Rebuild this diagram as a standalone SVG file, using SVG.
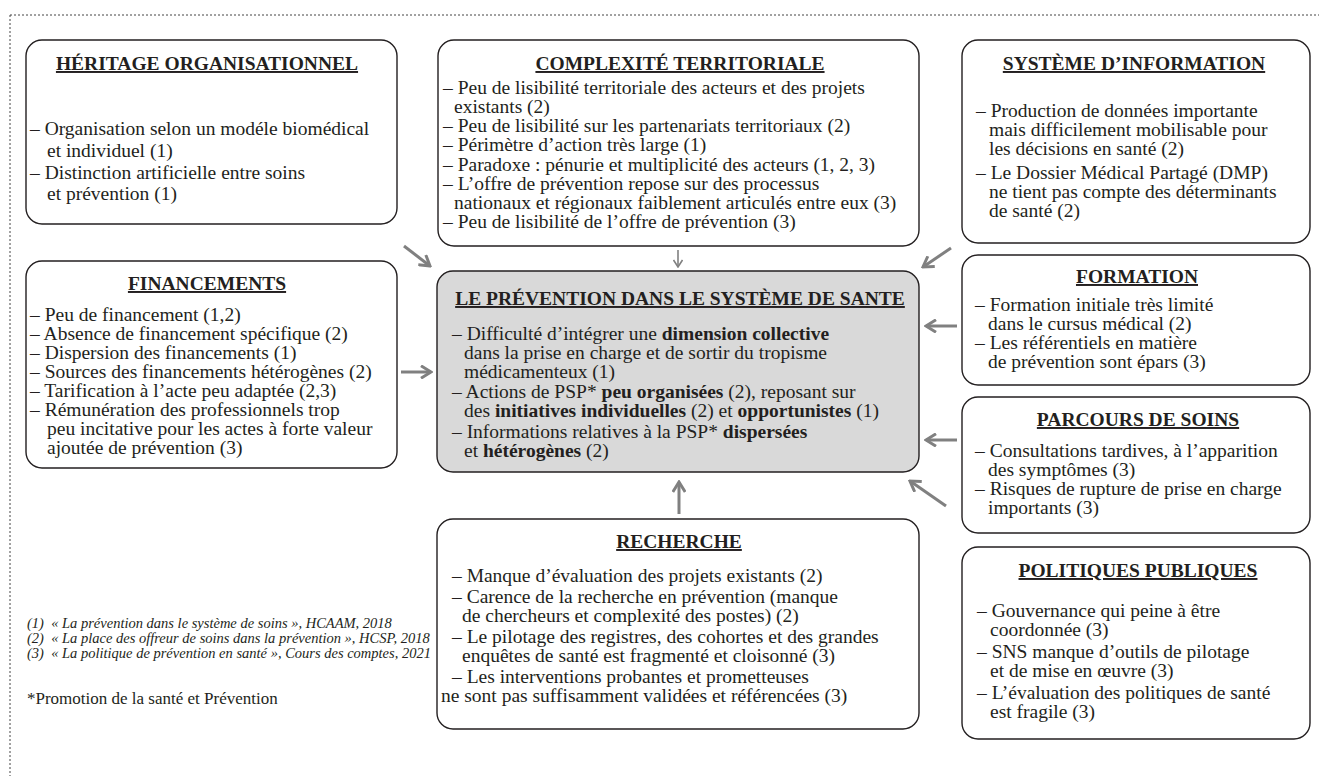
<svg xmlns="http://www.w3.org/2000/svg" width="1319" height="776" viewBox="0 0 1319 776">
<style>
text{font-family:"Liberation Serif","Times New Roman",serif;fill:#231f20;}
.b{font-size:19.5px;}
.t{font-size:19.5px;font-weight:bold;text-anchor:middle;text-decoration:underline;}
.box{fill:#fff;stroke:#231f20;stroke-width:1.4;}
.gray{fill:#d9d9d9;}
.bd{font-weight:bold;}
.fn{font-size:14.5px;font-style:italic;}
.note{font-size:17px;}
.ar{stroke:#808080;stroke-width:3;fill:none;}
.ars{stroke:#808080;stroke-width:1.6;fill:none;}
.frame{stroke:#444;stroke-width:1;stroke-dasharray:2 2;fill:none;}
</style>
<defs>
<marker id="ah" markerUnits="userSpaceOnUse" viewBox="0 0 14 14" refX="12" refY="7" markerWidth="14" markerHeight="14" orient="auto">
<path d="M2,0.8 L12,7 L2,13.2" fill="none" stroke="#808080" stroke-width="3"/>
</marker>
<marker id="ahs" markerUnits="userSpaceOnUse" viewBox="0 0 10 10" refX="9" refY="5" markerWidth="10" markerHeight="10" orient="auto">
<path d="M2,0.5 L9,5 L2,9.5" fill="none" stroke="#808080" stroke-width="1.6"/>
</marker>
</defs>

<g id="frame">
<path class="frame" d="M10,15 H1319 M10,15 V776"/>
</g>

<g id="heritage">
<rect class="box" x="26" y="40" width="371" height="184" rx="16"/>
<text class="t" x="207" y="70">HÉRITAGE ORGANISATIONNEL</text>
<text class="b" x="30" y="135">– Organisation selon un modéle biomédical</text>
<text class="b" x="47" y="157">et individuel (1)</text>
<text class="b" x="30" y="179">– Distinction artificielle entre soins</text>
<text class="b" x="47" y="200">et prévention (1)</text>
</g>

<g id="complexite">
<rect class="box" x="438" y="40" width="481" height="206" rx="16"/>
<text class="t" x="680" y="70">COMPLEXITÉ TERRITORIALE</text>
<text class="b" x="443" y="94">– Peu de lisibilité territoriale des acteurs et des projets</text>
<text class="b" x="454" y="113">existants (2)</text>
<text class="b" x="443" y="132">– Peu de lisibilité sur les partenariats territoriaux (2)</text>
<text class="b" x="443" y="151">– Périmètre d’action très large (1)</text>
<text class="b" x="443" y="171">– Paradoxe : pénurie et multiplicité des acteurs (1, 2, 3)</text>
<text class="b" x="443" y="190">– L’offre de prévention repose sur des processus</text>
<text class="b" x="454" y="209">nationaux et régionaux faiblement articulés entre eux (3)</text>
<text class="b" x="443" y="228">– Peu de lisibilité de l’offre de prévention (3)</text>
</g>

<g id="systeme">
<rect class="box" x="962" y="40" width="348" height="203" rx="16"/>
<text class="t" x="1134" y="70">SYSTÈME D’INFORMATION</text>
<text class="b" x="976" y="117">– Production de données importante</text>
<text class="b" x="989" y="136">mais difficilement mobilisable pour</text>
<text class="b" x="989" y="155">les décisions en santé (2)</text>
<text class="b" x="976" y="179">– Le Dossier Médical Partagé (DMP)</text>
<text class="b" x="989" y="198">ne tient pas compte des déterminants</text>
<text class="b" x="989" y="217">de santé (2)</text>
</g>

<g id="financements">
<rect class="box" x="26" y="261" width="371" height="207" rx="16"/>
<text class="t" x="207" y="290">FINANCEMENTS</text>
<text class="b" x="30" y="321">– Peu de financement (1,2)</text>
<text class="b" x="30" y="340">– Absence de financement spécifique (2)</text>
<text class="b" x="30" y="359">– Dispersion des financements (1)</text>
<text class="b" x="30" y="378">– Sources des financements hétérogènes (2)</text>
<text class="b" x="30" y="397">– Tarification à l’acte peu adaptée (2,3)</text>
<text class="b" x="30" y="416">– Rémunération des professionnels trop</text>
<text class="b" x="47" y="435">peu incitative pour les actes à forte valeur</text>
<text class="b" x="47" y="454">ajoutée de prévention (3)</text>
</g>

<g id="centre">
<rect class="box gray" x="437" y="271" width="482" height="201" rx="16"/>
<text class="t" x="680" y="305">LE PRÉVENTION DANS LE SYSTÈME DE SANTE</text>
<text class="b" x="452" y="340">– Difficulté d’intégrer une <tspan class="bd">dimension collective</tspan></text>
<text class="b" x="464" y="359">dans la prise en charge et de sortir du tropisme</text>
<text class="b" x="464" y="378">médicamenteux (1)</text>
<text class="b" x="452" y="398">– Actions de PSP* <tspan class="bd">peu organisées</tspan> (2), reposant sur</text>
<text class="b" x="464" y="417">des <tspan class="bd">initiatives individuelles</tspan> (2) et <tspan class="bd">opportunistes</tspan> (1)</text>
<text class="b" x="452" y="438">– Informations relatives à la PSP* <tspan class="bd">dispersées</tspan></text>
<text class="b" x="464" y="457">et <tspan class="bd">hétérogènes</tspan> (2)</text>
</g>

<g id="formation">
<rect class="box" x="962" y="255" width="348" height="130" rx="16"/>
<text class="t" x="1137" y="283">FORMATION</text>
<text class="b" x="975" y="311">– Formation initiale très limité</text>
<text class="b" x="988" y="330">dans le cursus médical (2)</text>
<text class="b" x="975" y="349">– Les référentiels en matière</text>
<text class="b" x="988" y="368">de prévention sont épars (3)</text>
</g>

<g id="parcours">
<rect class="box" x="962" y="397" width="348" height="136" rx="16"/>
<text class="t" x="1138" y="426">PARCOURS DE SOINS</text>
<text class="b" x="975" y="457">– Consultations tardives, à l’apparition</text>
<text class="b" x="988" y="476">des symptômes (3)</text>
<text class="b" x="975" y="495">– Risques de rupture de prise en charge</text>
<text class="b" x="988" y="514">importants (3)</text>
</g>

<g id="recherche">
<rect class="box" x="437" y="519" width="482" height="210" rx="16"/>
<text class="t" x="679" y="548">RECHERCHE</text>
<text class="b" x="452" y="582">– Manque d’évaluation des projets existants (2)</text>
<text class="b" x="452" y="603">– Carence de la recherche en prévention (manque</text>
<text class="b" x="462" y="622">de chercheurs et complexité des postes) (2)</text>
<text class="b" x="452" y="643">– Le pilotage des registres, des cohortes et des grandes</text>
<text class="b" x="462" y="662">enquêtes de santé est fragmenté et cloisonné (3)</text>
<text class="b" x="452" y="683">– Les interventions probantes et prometteuses</text>
<text class="b" x="441" y="702">ne sont pas suffisamment validées et référencées (3)</text>
</g>

<g id="politiques">
<rect class="box" x="962" y="547" width="348" height="192" rx="16"/>
<text class="t" x="1138" y="577">POLITIQUES PUBLIQUES</text>
<text class="b" x="977" y="617">– Gouvernance qui peine à être</text>
<text class="b" x="990" y="636">coordonnée (3)</text>
<text class="b" x="977" y="658">– SNS manque d’outils de pilotage</text>
<text class="b" x="990" y="677">et de mise en œuvre (3)</text>
<text class="b" x="977" y="699">– L’évaluation des politiques de santé</text>
<text class="b" x="990" y="718">est fragile (3)</text>
</g>

<g id="notes">
<text class="fn" x="27" y="628">(1) &#160;« La prévention dans le système de soins », HCAAM, 2018</text>
<text class="fn" x="27" y="643">(2) &#160;« La place des offreur de soins dans la prévention », HCSP, 2018</text>
<text class="fn" x="27" y="658">(3) &#160;« La politique de prévention en santé », Cours des comptes, 2021</text>
<text class="note" x="27" y="704">*Promotion de la santé et Prévention</text>
</g>

<g id="connectors">
<line class="ar" x1="404" y1="246" x2="430" y2="266" marker-end="url(#ah)"/>
<line class="ars" x1="678" y1="250" x2="678" y2="267" marker-end="url(#ahs)"/>
<line class="ar" x1="951" y1="248" x2="923" y2="267" marker-end="url(#ah)"/>
<line class="ar" x1="401" y1="372" x2="431" y2="372" marker-end="url(#ah)"/>
<line class="ar" x1="957" y1="326" x2="926" y2="326" marker-end="url(#ah)"/>
<line class="ar" x1="957" y1="440" x2="926" y2="440" marker-end="url(#ah)"/>
<line class="ar" x1="946" y1="506" x2="910" y2="481" marker-end="url(#ah)"/>
<line class="ar" x1="679" y1="514" x2="679" y2="482" marker-end="url(#ah)"/>
</g>
</svg>
